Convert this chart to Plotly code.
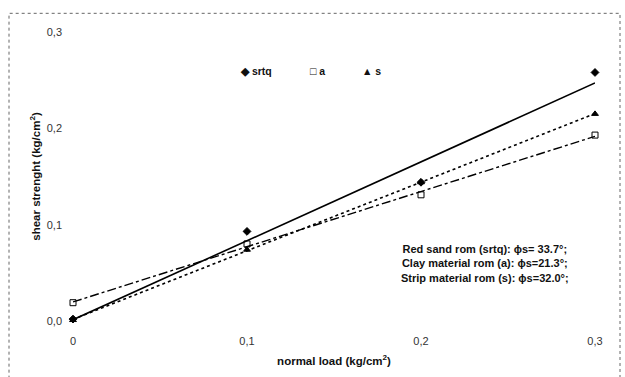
import numpy as np
import plotly.graph_objects as go

normal_load = [0.0, 0.1, 0.2, 0.3]
srtq = [0.002, 0.093, 0.144, 0.258]
a_vals = [0.019, 0.080, 0.131, 0.193]
s_vals = [0.001, 0.074, 0.144, 0.215]

x_ticks = [0, 0.1, 0.2, 0.3]
x_ticktext = ["0", "0,1", "0,2", "0,3"]
y_ticks = [0, 0.1, 0.2, 0.3]
y_ticktext = ["0,0", "0,1", "0,2", "0,3"]

fig = go.Figure()

series = [
    ("srtq", srtq, "diamond", "solid", 1.6, "◆"),
    ("a", a_vals, "square-open", "dashdot", 1.4, "□"),
    ("s", s_vals, "triangle-up", "dot", 1.6, "▲"),
]

xfit = np.array([0.0, 0.3])
for name, ys, sym, dash, w, g in series:
    k, b = np.polyfit(normal_load, ys, 1)
    fig.add_trace(go.Scatter(x=xfit, y=k * xfit + b, mode="lines",
                             line=dict(color="black", width=w, dash=dash),
                             showlegend=False, hoverinfo="skip", cliponaxis=False))
for name, ys, sym, dash, w, g in series:
    fig.add_trace(go.Scatter(x=normal_load, y=ys, mode="markers", name=name,
                             marker=dict(symbol=sym, size=6, color="black",
                                         line=dict(color="black", width=1)),
                             showlegend=False, cliponaxis=False))

# legend drawn as text entries
legend_px = [238, 308, 360]
for (name, ys, sym, dash, w, g), px in zip(series, legend_px):
    fig.add_annotation(xref="paper", yref="paper", x=(px - 73) / 522, y=(326 - 72) / 294,
                       xanchor="left", yanchor="middle", showarrow=False,
                       text=f"<b>{g} {name}</b>",
                       font=dict(size=10.5, family="Liberation Sans, Arial", color="#111"))

tickfont = dict(size=11, family="Liberation Sans, Arial", color="#333")
fig.update_layout(
    width=625, height=377,
    margin=dict(l=73, r=30, t=32, b=51),
    paper_bgcolor="white", plot_bgcolor="white",
    font=dict(family="Liberation Sans, Arial", size=11, color="#222"),
    showlegend=False,
    xaxis=dict(range=[0, 0.3], tickvals=x_ticks, ticktext=x_ticktext,
               showgrid=False, zeroline=False, showline=False, ticks="",
               tickfont=tickfont, ticklabelstandoff=12,
               title=dict(text="<b>normal load (kg/cm<sup>2</sup>)</b>", standoff=10,
                          font=dict(size=11.5, color="#111"))),
    yaxis=dict(range=[0, 0.3], tickvals=y_ticks, ticktext=y_ticktext,
               showgrid=False, zeroline=False, showline=False, ticks="",
               tickfont=tickfont, ticklabelstandoff=10,
               title=dict(text="<b>shear strenght (kg/cm<sup>2</sup>)</b>", standoff=3,
                          font=dict(size=11.5, color="#111"))),
)

fig.add_annotation(
    xref="paper", yref="paper", x=(485 - 73) / 522, y=(326 - 267) / 294,
    xanchor="center", yanchor="middle", showarrow=False, align="center",
    text="<b>Red sand rom (srtq): ϕs= 33.7°;<br>Clay material rom (a): ϕs=21.3°;<br>Strip material rom (s): ϕs=32.0°;</b>",
    font=dict(size=11, family="Liberation Sans, Arial", color="#111"),
)

fig.add_shape(type="rect", xref="paper", yref="paper",
              x0=(9 - 73) / 522, x1=(620 - 73) / 522,
              y0=(326 - 385) / 294, y1=(326 - 13) / 294,
              line=dict(color="#666", width=1, dash="dot"))

fig.write_html("out.html")
